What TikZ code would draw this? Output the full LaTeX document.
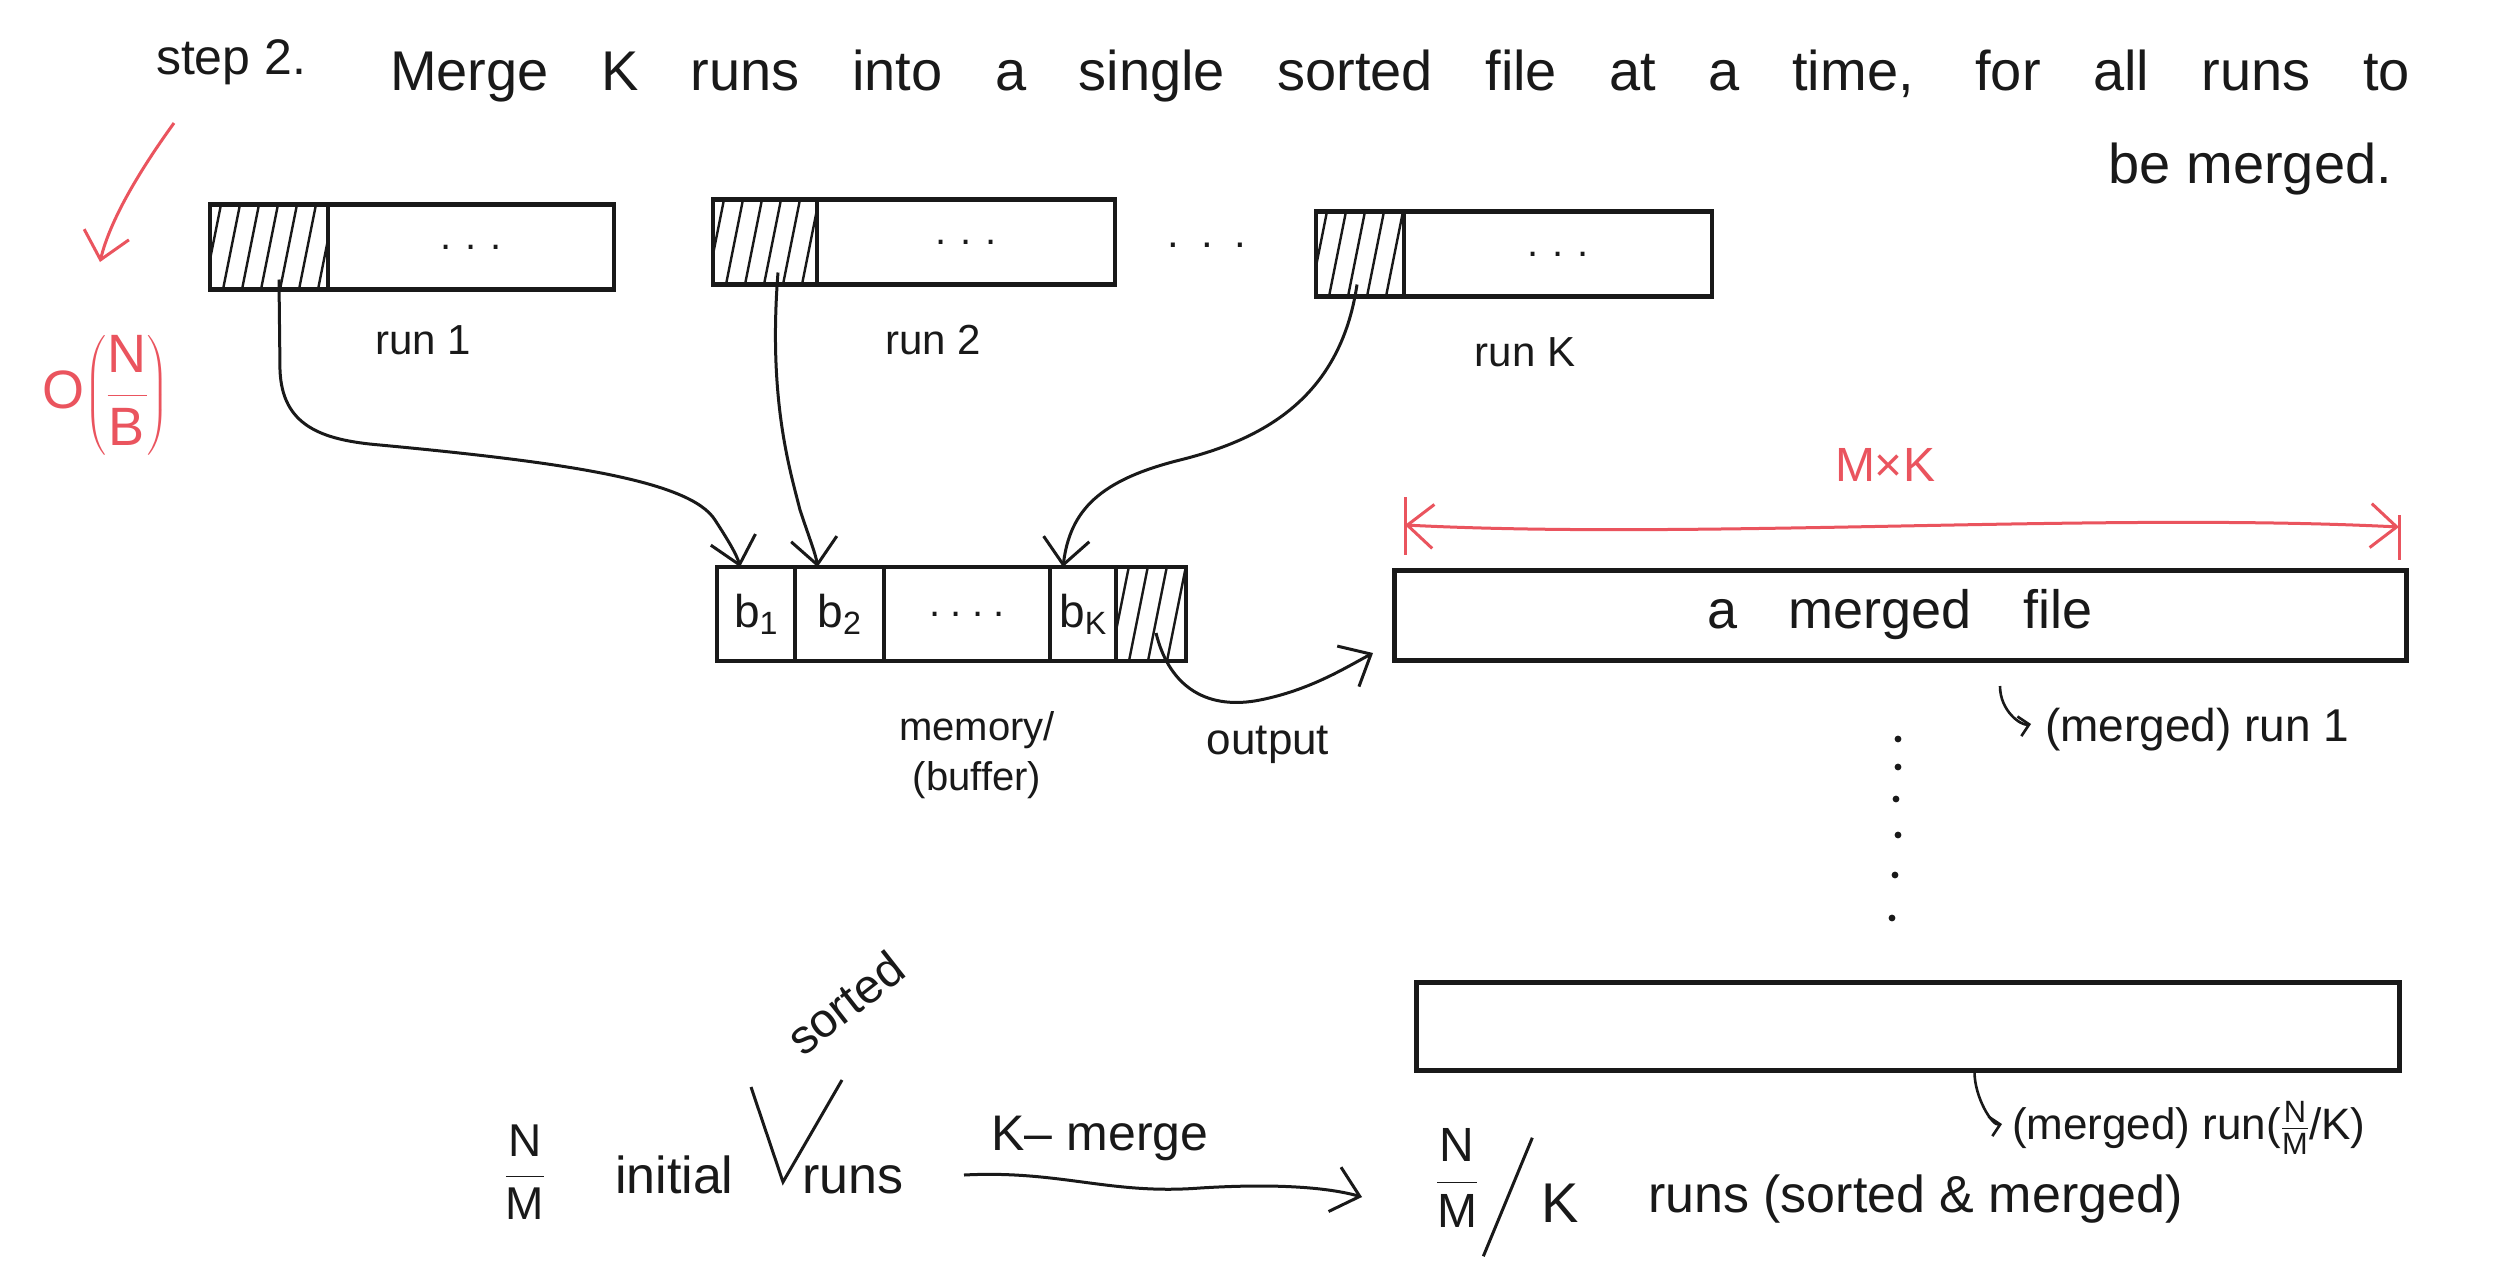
\RequirePackage{fix-cm}
\documentclass[tikz,border=0pt]{standalone}
\usepackage{amsmath}
\usepackage{fontspec}
\setmainfont{Liberation Sans}
\usetikzlibrary{arrows.meta,calc}
\definecolor{ink}{RGB}{25,25,25}
\definecolor{redink}{RGB}{234,84,94}
\newcommand{\fs}[1]{\fontsize{#1}{#1}\selectfont}
\begin{document}
\begin{tikzpicture}[x=1pt,y=-1pt,
  every node/.style={inner sep=0pt,outer sep=0pt,text=ink},
  runcell/.style={draw=ink,line width=4.5pt,minimum height=85pt},
  memcell/.style={draw=ink,line width=4.5pt,minimum height=94pt,font=\fs{46}},
  bigbox/.style={draw=ink,line width=5pt},
  hatch/.style={draw=ink,line width=2.4pt},
  arr/.style={draw=ink,line width=3pt,-{Straight Barb[length=26pt,width=46pt]}},
  hookarr/.style={draw=ink,line width=2.6pt,-{Straight Barb[length=10pt,width=20pt]}},
  redarr/.style={draw=redink,line width=3pt,-{Straight Barb[length=26pt,width=46pt]}},
  dimarr/.style={draw=redink,line width=3pt,{Straight Barb[length=26pt,width=44pt]}-{Straight Barb[length=26pt,width=44pt]}},
  lab/.style={font=\fs{42}}]
\fill[white] (0,0) rectangle (2504,1270);
\useasboundingbox (0,0) rectangle (2504,1270);

% header
\node[font=\fs{50},anchor=base west] (stp) at (156,74) {step 2.};
\node[font=\fs{56},anchor=base west] (hd) at (390,90) {\makebox[2020pt][s]{Merge K runs into a single sorted file at a time, for all runs to}};
\node[font=\fs{56},anchor=base east] (hd2) at (2392,183) {be merged.};

% red arrow and O(N/B)
\node[font=\fs{54},text=redink] (onb) at (106,395) {$\text{O}\!\left(\dfrac{\text{N}}{\text{B}}\right)$};
\coordinate (ra) at (174,123);
\coordinate (rb) at (100,262);
\draw[redarr] (ra) .. controls (140,170) and (110,220) .. (rb);

% runs
\node[runcell,minimum width=118pt] (h1) at (269,247) {};
\node[runcell,minimum width=286pt,font=\fs{40}] (r1) at (471,247) {.\hspace{14pt}.\hspace{14pt}.};
\node[runcell,minimum width=104pt] (h2) at (765,242) {};
\node[runcell,minimum width=298pt,font=\fs{40}] (r2) at (966,242) {.\hspace{14pt}.\hspace{14pt}.};
\node[runcell,minimum width=88pt] (hK) at (1360,254) {};
\node[runcell,minimum width=308pt,font=\fs{40}] (rK) at (1558,254) {.\hspace{14pt}.\hspace{14pt}.};
\node[font=\fs{42}] (mid) at (1207,245) {.\hspace{22pt}.\hspace{22pt}.};
\node[lab] (l1) at (423,340) {run 1};
\node[lab] (l2) at (933,340) {run 2};
\node[lab] (lK) at (1525,352) {run K};

% memory
\node[memcell,minimum width=78pt] (b1) at (756,614) {b\textsubscript{1}};
\node[memcell,minimum width=89pt] (b2) at (839.5,614) {b\textsubscript{2}};
\node[memcell,minimum width=166pt,font=\fs{40}] (md) at (967,614) {.\hspace{10pt}.\hspace{10pt}.\hspace{10pt}.};
\node[memcell,minimum width=66pt] (bK) at (1083,614) {b\textsubscript{K}};
\node[memcell,minimum width=70pt] (mh) at (1151,614) {};
\node[font=\fontsize{40}{50}\selectfont,align=center] (meml) at (977,755) {memory/\\(buffer)};
\node[font=\fs{44}] (outl) at (1268,745) {output};

% hatching
\foreach \c in {h1,h2,hK,mh} {
  \begin{scope}
    \clip (\c.south west) rectangle (\c.north east);
    \foreach \k in {0,...,6} \draw[hatch] ($(\c.south west)+(\k*19-6,0)$) -- ++(20,-100);
  \end{scope}
}

% arrows runs -> memory
\draw[arr] ([xshift=10pt,yshift=10pt]h1.south) -- (280,370) .. controls (282,425) and (320,440) .. (380,445) .. controls (560,462) and (690,480) .. (715,520) .. controls (728,540) and (737,555) .. ([xshift=-16pt]b1.north);
\draw[arr] ([xshift=13pt,yshift=12pt]h2.south) .. controls (768,400) and (790,470) .. (800,510) .. controls (810,540) and (816,555) .. ([xshift=-22pt]b2.north);
\draw[arr] ([xshift=-3pt,yshift=12pt]hK.south) .. controls (1340,400) and (1260,440) .. (1180,460) .. controls (1100,480) and (1070,510) .. ([xshift=-20pt]bK.north);

% merged file
\node[bigbox,minimum width=1012pt,minimum height=90pt,font=\fs{54}] (mf) at (1900,615) {\makebox[385pt][s]{a merged file}};
\draw[arr] ([xshift=5pt,yshift=-19pt]mh.center) .. controls (1170,690) and (1210,710) .. (1260,700) .. controls (1310,690) and (1345,668) .. ([xshift=-21pt,yshift=-38pt]mf.west);

% M x K
\node[font=\fs{48},text=redink] (mk) at (1885,465) {M×K};
\coordinate (dl) at ($(mf.north west)+(11,-45)$);
\coordinate (dr) at ($(mf.north east)+(-7,-43)$);
\draw[redink,line width=3pt] ($(dl)+(0,-28)$) -- ($(dl)+(0,30)$);
\draw[redink,line width=3pt] ($(dr)+(0,-12)$) -- ($(dr)+(0,33)$);
\draw[dimarr] (dl) .. controls (1700,540) and (2100,512) .. (dr);

\node[font=\fs{46},anchor=west] (m1) at (2045,730) {(merged) run 1};
\draw[hookarr] ([xshift=100pt,yshift=-26pt]mf.south) .. controls +(0,25) and +(-10,2) .. ([xshift=-14pt,yshift=6pt]m1.west);

% vertical dots
\foreach \x/\y in {1898/739,1898/767,1896/799,1898/835,1895/875,1892/918}
  \fill[ink] (\x,\y) circle (3.4pt);

% bottom box
\node[bigbox,minimum width=983pt,minimum height=88pt] (bb) at (1907.5,1026) {};
\node[font=\fs{44},anchor=west] (m2) at (2012,1128) {(merged) run($\tfrac{\text{N}}{\text{M}}$/K)};
\draw[hookarr] ([xshift=67pt,yshift=-2pt]bb.south) .. controls +(0,25) and +(-10,2) .. ([xshift=-10pt,yshift=4pt]m2.west);

% bottom formula line
\node[font=\fs{46}] (nm) at (525,1172) {$\dfrac{\text{N}}{\text{M}}$};
\node[font=\fs{52},anchor=base west] (ini) at (615,1193) {initial};
\node[font=\fs{52},anchor=base west] (rns) at (802,1193) {runs};
\node[font=\fs{48},rotate=38] (srt) at (845,1003) {sorted};
\draw[ink,line width=3pt] (751,1087) -- (783,1182) -- (842,1080);
\node[font=\fs{50},anchor=base] (kml) at (1100,1150) {K– merge};
\coordinate (ka) at (964,1175);
\coordinate (kb) at (1362,1197);
\draw[arr] (ka) .. controls (1060,1170) and (1110,1195) .. (1200,1188) .. controls (1280,1183) and (1330,1188) .. (kb);
\node[font=\fs{48}] (nmk) at (1457,1178) {$\dfrac{\text{N}}{\text{M}}$};
\node[font=\fs{56}] (kk) at (1560,1203) {K};
\draw[ink,line width=3pt] ($(kk.north west)+(-9,-46)$) -- ($(kk.south west)+(-58,34)$);
\node[font=\fs{52},anchor=base west] (rsm) at (1648,1212) {runs (sorted \& merged)};
\end{tikzpicture}
\end{document}
